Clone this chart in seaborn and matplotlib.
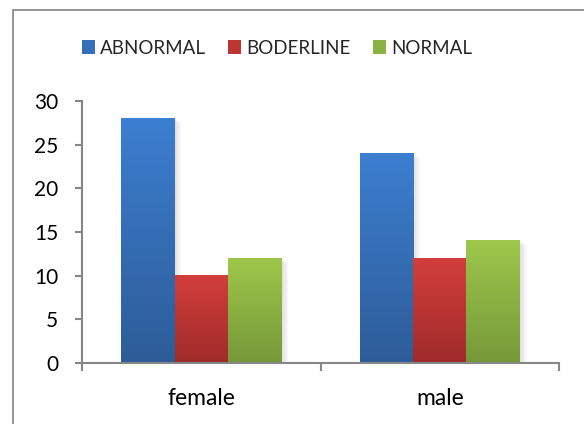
import numpy as np
import pandas as pd
import matplotlib
matplotlib.use("Agg")
import matplotlib.pyplot as plt
import matplotlib.patheffects as pe
from matplotlib.colors import to_rgb
from matplotlib.patches import Rectangle, Patch
import seaborn as sns

# Counts by sex and result
sexes = ["female", "male"]
statuses = ["ABNORMAL", "BODERLINE", "NORMAL"]
abnormal = [28, 24]
borderline = [10, 12]
normal = [12, 14]
y_ticks = [0, 5, 10, 15, 20, 25, 30]

# Gradient ends (top, bottom) for each series
top_colors = ["#3C7ED0", "#D23E3B", "#9DC74B"]
bottom_colors = ["#2D5C98", "#9F2B2A", "#779839"]
mid_colors = ["#3570B8", "#BC3533", "#8BB043"]

df = pd.DataFrame({
    "sex": sexes * 3,
    "status": [s for s in statuses for _ in sexes],
    "count": abnormal + borderline + normal,
})

sns.set_theme(style="white")
plt.rcParams["font.family"] = ["Lato", "DejaVu Sans"]

W, H = 584, 424
fig = plt.figure(figsize=(W / 100, H / 100), dpi=100)
ax = fig.add_axes([82 / W, 1 - 363 / H, (559 - 82) / W, (363 - 101) / H])

sns.barplot(data=df, x="sex", y="count", hue="status", order=sexes,
            hue_order=statuses, palette=mid_colors, width=0.672,
            saturation=1, ax=ax, legend=False, linewidth=0)

# Soft drop shadow built from several faint offset copies
shadow = [pe.SimplePatchShadow(offset=(k, -0.6 * k), shadow_rgbFace="#707070", alpha=0.045)
          for k in (1, 2, 3, 4, 5)]

# Replace flat fills with vertical gradients
for container, c_top, c_bot in zip(ax.containers, top_colors, bottom_colors):
    t = np.array(to_rgb(c_top))
    b = np.array(to_rgb(c_bot))
    ramp = np.linspace(0, 1, 64)[:, None, None]
    grad = t * (1 - ramp) + b * ramp
    for bar in container:
        bar.set_path_effects(shadow + [pe.Normal()])
        x0, y0 = bar.get_x(), bar.get_y()
        w, h = bar.get_width(), bar.get_height()
        ax.imshow(grad, extent=[x0, x0 + w, y0, y0 + h], aspect="auto",
                  origin="upper", zorder=bar.get_zorder() + 0.1, interpolation="bilinear")

ax.set_xlim(-0.5, 1.5)
ax.set_ylim(0, 30)
ax.set_yticks(y_ticks)
ax.set_xticks([0, 1])
ax.set_xticklabels(sexes)
ax.set_xticks([-0.5, 0.5, 1.5], minor=True)
ax.set_xlabel("")
ax.set_ylabel("")

axis_gray = "#868686"
for side in ["top", "right"]:
    ax.spines[side].set_visible(False)
for side in ["left", "bottom"]:
    ax.spines[side].set_color(axis_gray)
    ax.spines[side].set_linewidth(1.5)
    ax.spines[side].set_zorder(5)

ax.tick_params(axis="y", which="major", direction="out", length=5, width=1.5,
               color=axis_gray, labelsize=15, labelcolor="black", pad=12, left=True)
ax.tick_params(axis="x", which="major", length=0, labelsize=16.5, labelcolor="black", pad=18)
ax.tick_params(axis="x", which="minor", direction="out", length=5.5, width=1.5,
               color=axis_gray, bottom=True)
ax.grid(False)

# Legend across the top
handles = [Patch(facecolor=c, edgecolor="none", label=s) for c, s in zip(mid_colors, statuses)]
fig.legend(handles=handles, loc="center", bbox_to_anchor=(277 / W, 1 - 48 / H),
           ncol=3, frameon=False, fontsize=13.5, handlelength=0.7, handleheight=0.7,
           handletextpad=0.3, columnspacing=1.15)

# Chart area border
fig.patches.append(Rectangle((13 / W, -0.2), 2, 1 - 10 / H + 0.2, transform=fig.transFigure,
                             facecolor="none", edgecolor="#8C8C8C", linewidth=1.3, zorder=0))

fig.savefig("out.png", dpi=100)
